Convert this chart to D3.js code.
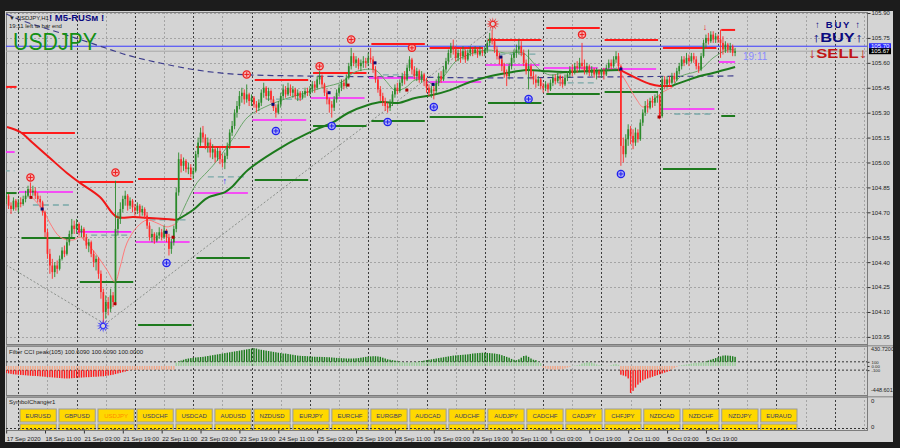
<!DOCTYPE html>
<html><head><meta charset="utf-8">
<script src="https://cdn.jsdelivr.net/npm/d3@7"></script>
<style>
body{margin:0;background:#1c1c1c;overflow:hidden}
svg{display:block}
text{font-family:"Liberation Sans",Arial,sans-serif}
</style></head>
<body><svg id="c" width="900" height="448"></svg>
<script>
// ---------------- DATA ----------------
const closes=[104.80,104.74,104.72,104.77,104.73,
104.76,104.75,104.78,104.80,104.84,104.82,104.83,104.80,104.78,104.76,104.70,104.58,104.45,104.38,104.34,104.38,104.36,104.42,104.47,104.45,104.52,104.57,104.62,104.60,
104.63,104.58,104.60,104.55,104.50,104.52,104.45,104.40,104.42,104.33,104.22,104.10,104.16,104.12,104.20,104.16,104.60,104.66,104.72,104.78,104.80,104.74,104.77,104.73,
104.71,104.74,104.70,104.72,104.68,104.62,104.55,104.57,104.53,104.56,104.58,104.55,104.59,104.55,104.48,104.52,104.60,104.82,105.02,104.98,105.01,104.96,104.97,104.93,
104.95,105.05,105.12,105.18,105.15,105.10,105.12,105.06,105.08,105.03,105.07,105.02,105.00,105.04,105.10,105.18,105.22,105.30,105.34,105.40,105.42,105.38,105.41,105.37,
105.39,105.35,105.33,105.36,105.42,105.45,105.40,105.43,105.38,105.33,105.30,105.35,105.40,105.44,105.41,105.45,105.42,105.44,105.40,105.42,105.39,105.41,105.43,105.42,
105.44,105.47,105.45,105.50,105.52,105.47,105.42,105.38,105.35,105.33,105.38,105.42,105.45,105.48,105.46,105.51,105.58,105.64,105.60,105.62,105.58,105.60,105.61,105.60,
105.63,105.62,105.56,105.50,105.44,105.40,105.37,105.34,105.33,105.36,105.41,105.45,105.43,105.48,105.52,105.50,105.57,105.62,105.56,105.52,105.55,105.50,105.53,105.49,
105.45,105.42,105.44,105.43,105.48,105.52,105.50,105.56,105.61,105.66,105.70,105.68,105.63,105.66,105.64,105.67,105.62,105.66,105.68,105.66,105.68,105.65,105.67,105.66,
105.68,105.72,105.75,105.73,105.68,105.64,105.62,105.58,105.54,105.52,105.58,105.63,105.66,105.68,105.70,105.66,105.60,105.55,105.58,105.52,105.50,105.48,105.50,105.46,
105.45,105.47,105.44,105.48,105.51,105.49,105.52,105.50,105.47,105.51,105.53,105.56,105.54,105.58,105.57,105.60,105.58,105.55,105.58,105.54,105.56,105.53,105.55,105.53,
105.55,105.53,105.57,105.60,105.58,105.62,105.64,105.58,105.10,105.05,105.14,105.20,105.16,105.12,105.18,105.14,105.24,105.30,105.34,105.33,105.37,105.36,105.39,105.40,
105.28,105.50,105.47,105.50,105.48,105.52,105.50,105.55,105.58,105.62,105.60,105.63,105.61,105.64,105.62,105.58,105.56,105.64,105.72,105.75,105.73,105.77,105.74,105.76,
105.74,105.72,105.68,105.71,105.68,105.70,105.66,105.67];
const highs=[104.82,104.81,104.76,104.79,104.78,
104.78,104.79,104.80,104.83,104.86,104.88,104.86,104.85,104.82,104.80,104.77,104.71,104.60,104.48,104.42,104.40,104.41,104.44,104.49,104.50,104.54,104.59,104.66,104.65,
104.66,104.64,104.62,104.61,104.57,104.54,104.53,104.47,104.44,104.43,104.35,104.24,104.20,104.19,104.24,104.22,104.89,104.70,104.76,104.80,104.83,104.81,104.79,104.78,
104.75,104.76,104.75,104.74,104.73,104.70,104.64,104.60,104.58,104.58,104.61,104.60,104.62,104.60,104.57,104.54,104.62,104.85,105.06,105.05,105.03,105.02,105.00,104.99,
104.97,105.07,105.15,105.21,105.22,105.17,105.15,105.14,105.11,105.10,105.09,105.10,105.05,105.06,105.12,105.20,105.25,105.32,105.37,105.43,105.45,105.44,105.47,105.42,
105.41,105.40,105.37,105.38,105.44,105.48,105.46,105.45,105.44,105.40,105.35,105.37,105.42,105.47,105.46,105.48,105.47,105.46,105.45,105.44,105.43,105.43,105.45,105.45,
105.46,105.49,105.49,105.52,105.55,105.53,105.48,105.44,105.39,105.37,105.40,105.44,105.47,105.50,105.50,105.53,105.60,105.69,105.66,105.64,105.63,105.62,105.64,105.63,
105.66,105.69,105.64,105.58,105.52,105.46,105.42,105.39,105.36,105.38,105.43,105.47,105.48,105.50,105.54,105.55,105.59,105.64,105.63,105.58,105.57,105.56,105.55,105.54,
105.51,105.47,105.46,105.46,105.50,105.54,105.55,105.58,105.63,105.68,105.72,105.74,105.70,105.68,105.69,105.70,105.68,105.68,105.70,105.69,105.70,105.69,105.70,105.69,
105.70,105.74,105.78,105.80,105.75,105.70,105.66,105.64,105.60,105.56,105.60,105.65,105.68,105.71,105.74,105.73,105.68,105.62,105.68,105.59,105.55,105.53,105.52,105.51,
105.48,105.49,105.48,105.50,105.53,105.53,105.54,105.53,105.52,105.53,105.55,105.58,105.59,105.60,105.61,105.63,105.72,105.62,105.60,105.59,105.58,105.57,105.57,105.56,
105.57,105.57,105.59,105.62,105.62,105.64,105.67,105.66,105.59,105.15,105.17,105.23,105.22,105.20,105.21,105.20,105.26,105.32,105.37,105.38,105.39,105.40,105.41,105.42,
105.41,105.52,105.52,105.52,105.52,105.54,105.54,105.57,105.60,105.64,105.64,105.66,105.65,105.66,105.66,105.64,105.60,105.66,105.74,105.77,105.78,105.79,105.79,105.78,
105.77,105.80,105.76,105.73,105.72,105.72,105.71,105.69];
const lows=[104.75,104.72,104.69,104.71,104.71,
104.70,104.73,104.74,104.76,104.79,104.80,104.80,104.78,104.76,104.73,104.68,104.55,104.42,104.33,104.30,104.31,104.33,104.35,104.41,104.43,104.44,104.50,104.55,104.57,
104.57,104.56,104.55,104.53,104.48,104.46,104.43,104.37,104.35,104.30,104.18,104.03,104.06,104.08,104.10,104.13,104.14,104.56,104.63,104.70,104.74,104.71,104.72,104.70,
104.68,104.69,104.67,104.68,104.66,104.60,104.53,104.52,104.51,104.52,104.54,104.53,104.54,104.52,104.44,104.45,104.50,104.58,104.80,104.94,104.95,104.94,104.93,104.91,
104.90,104.94,105.03,105.10,105.12,105.08,105.06,105.03,105.02,105.00,105.01,104.99,104.97,104.96,105.02,105.08,105.16,105.20,105.27,105.32,105.36,105.35,105.36,105.34,
105.34,105.33,105.30,105.31,105.34,105.39,105.38,105.37,105.36,105.31,105.27,105.29,105.33,105.38,105.39,105.40,105.40,105.39,105.38,105.37,105.37,105.38,105.39,105.40,
105.40,105.42,105.42,105.44,105.47,105.45,105.40,105.35,105.30,105.27,105.31,105.36,105.40,105.43,105.44,105.45,105.50,105.56,105.58,105.57,105.56,105.55,105.57,105.57,
105.58,105.60,105.54,105.48,105.42,105.37,105.34,105.31,105.30,105.31,105.34,105.39,105.41,105.42,105.46,105.47,105.49,105.55,105.53,105.50,105.49,105.48,105.48,105.46,
105.42,105.40,105.39,105.38,105.41,105.46,105.48,105.49,105.54,105.59,105.63,105.65,105.61,105.61,105.60,105.62,105.60,105.61,105.64,105.64,105.65,105.63,105.64,105.64,
105.64,105.66,105.70,105.71,105.66,105.62,105.59,105.55,105.51,105.46,105.50,105.56,105.60,105.63,105.65,105.64,105.58,105.53,105.44,105.50,105.47,105.45,105.46,105.44,
105.42,105.43,105.42,105.43,105.46,105.47,105.48,105.46,105.45,105.46,105.49,105.51,105.52,105.53,105.54,105.55,105.56,105.53,105.53,105.52,105.52,105.51,105.50,105.51,
105.51,105.50,105.52,105.55,105.56,105.57,105.60,105.55,104.98,105.00,105.03,105.10,105.11,105.08,105.10,105.12,105.13,105.22,105.28,105.30,105.32,105.33,105.34,105.36,
105.26,105.27,105.44,105.45,105.46,105.47,105.48,105.49,105.53,105.56,105.58,105.59,105.58,105.60,105.60,105.56,105.54,105.55,105.63,105.69,105.71,105.72,105.72,105.72,
105.72,105.63,105.65,105.66,105.66,105.66,105.64,105.64];
const firstOpen=104.78;

const timeLabels=["17 Sep 2020","18 Sep 11:00","21 Sep 03:00","21 Sep 19:00","22 Sep 11:00","23 Sep 03:00","23 Sep 19:00","24 Sep 11:00","25 Sep 03:00","25 Sep 19:00","28 Sep 11:00","29 Sep 03:00","29 Sep 19:00","30 Sep 11:00","1 Oct 03:00","1 Oct 19:00","2 Oct 11:00","5 Oct 03:00","5 Oct 19:00"];
const timeLabelBars=[0,16,32,48,64,80,96,112,128,144,160,176,192,208,224,240,256,272,288];
const priceTicks=[103.95,104.10,104.25,104.40,104.55,104.70,104.85,105.00,105.15,105.30,105.45,105.60,105.75,105.90];
const dayStarts=[-19,5,29,53,77,101,125,149,173,197,221,245,269,293];
const askPrice=105.70, bidPrice=105.67;

// daily levels (one per day, null = not shown)
const redLevels=[105.455,105.178,104.883,104.901,105.093,105.497,105.539,105.713,105.689,105.737,105.810,105.737,105.689,105.798];
const magentaLevels=[105.063,104.822,104.582,104.521,104.816,105.256,105.388,105.509,105.485,105.587,105.569,105.563,105.322,105.605];
const greenLevels=[104.816,104.545,104.280,104.022,104.425,104.895,105.220,105.250,105.274,105.358,105.412,105.424,104.961,105.280];
const tealLevels=[104.949,104.744,104.563,104.654,104.913,105.382,null,105.527,null,105.653,105.479,null,105.292,null];

// moving averages: [bar, price]
const slowMaDown1=[[0.35,105.214],[5.7,105.184],[11,105.117],[18,105.027],[25,104.937],[30.4,104.877],[38.6,104.792],[45.6,104.672],[52.2,104.672],[59.2,104.666],[65.4,104.660],[70.3,104.654]];
const slowMaUp1=[[70.3,104.654],[76.9,104.714],[82.7,104.786],[90.1,104.822],[92.9,104.852],[99.5,104.955],[113.5,105.093],[127.1,105.196],[134.1,105.238],[140.7,105.298],[148.9,105.346],[154.7,105.364],[161.3,105.358],[168.3,105.388],[175.3,105.406],[182.7,105.436],[190.9,105.485],[197.9,105.515],[206.1,105.539],[214.4,105.557],[220.9,105.551],[229.2,105.545],[239,105.551],[252.6,105.557]];
const slowMaDown2=[[252.6,105.557],[256.7,105.527],[260.9,105.497],[265,105.473],[269.1,105.461],[274,105.461]];
const slowMaUp2=[[274,105.461],[277.3,105.479],[284.3,105.515],[290.9,105.539],[300,105.575]];
const fastMaDown1=[[9.8,104.804],[15.2,104.714],[18,104.636],[22.2,104.551],[27.5,104.533],[30.4,104.551],[35.7,104.473],[41.5,104.353],[44.8,104.281],[46.9,104.371],[49.7,104.515],[53.9,104.612],[58,104.654],[62,104.636],[66.2,104.612],[70.3,104.636]];
const fastMaUp1=[[70.3,104.636],[72.8,104.714],[75.7,104.804],[78.5,104.877],[82.7,104.943],[86,104.997],[92.9,105.135],[99.5,105.274],[106.5,105.334],[113.5,105.376],[124.2,105.424],[131.2,105.455],[138.2,105.485],[143.6,105.545],[151.8,105.557],[155.9,105.497],[160,105.436],[164.1,105.448],[168.3,105.497],[172.4,105.497],[176.5,105.467],[180.6,105.527],[184.7,105.605],[188,105.635],[197.9,105.677],[205.3,105.659],[212.7,105.659],[219.7,105.557],[223.8,105.527],[229.2,105.539],[236.2,105.545],[244.4,105.545],[251.4,105.569]];
const fastMaDown2=[[251.4,105.569],[254.7,105.497],[259.6,105.376],[262.1,105.334],[266.2,105.376],[270.3,105.424],[274.4,105.455]];
const fastMaUp2=[[274.4,105.455],[277.3,105.515],[285.5,105.557],[290.9,105.629],[296.7,105.677],[300,105.677]];
const longMa=[[0,105.894],[2.8,105.876],[22.2,105.780],[38.6,105.701],[49.7,105.647],[63.3,105.599],[75.7,105.563],[88,105.539],[100.4,105.527],[121,105.521],[162,105.515],[203.2,105.509],[244.4,105.515],[300,105.521]];
const trendLineA=[[0,104.383],[39.9,104.034]];
const trendLineB=[[41.9,104.04],[200.4,105.81]];

const highMarks=[[10,104.88],[45,104.91],[99,105.50],[129,105.55],[142,105.71],[167,105.66],[237,105.74]];
const lowMarks=[[66,104.425],[111,105.22],[134,105.25],[157,105.274],[176,105.364],[215,105.412],[253,104.961]];
const starHigh=[200.3,105.816], starLow=[39.9,104.034];
const upArrows=[[90,104.937]], downArrows=[[287.6,105.81]];
const navySquares=[[14.8,104.72],[65.8,104.58],[109.8,105.35],[132.9,105.42],[151.8,105.60],[175.7,105.47],[203.6,105.635],[253,105.563]];
const redSquares=[[10.2,104.79],[44.8,104.15],[68.7,104.55],[140.7,105.466],[164.9,105.436],[268.7,105.274]];

// CCI filter histogram (one value per bar)
const cci=[-170,-180,-190,-200,-205,-210,-215,-220,-225,-230,-235,-240,-240,-245,-250,-255,
-260,-265,-270,-275,-280,-285,-290,-295,-300,-300,-300,-295,-290,-285,-280,-280,-275,-270,-270,-265,-260,-260,-255,-250,-250,
-240,-230,-220,-210,-195,-180,-165,-150,-135,-120,
-100,-98,-96,-95,-94,-93,-92,-91,-90,-90,-90,-90,-90,-90,-90,-90,-90,-90,-90,
80,
110,130,150,170,180,190,200,205,210,215,220,230,240,250,260,270,280,290,300,310,320,330,340,350,360,370,380,390,400,410,
420,430,420,400,390,380,370,360,350,340,330,320,310,300,300,290,280,270,260,250,
245,240,240,235,230,225,222,220,220,218,215,212,210,205,200,195,190,188,185,182,180,180,182,185,190,
200,210,220,225,230,235,235,230,220,200,180,160,150,140,130,
115,105,95,90,85,85,90,95,100,110,120,130,140,150,160,
170,180,190,200,210,220,230,240,250,255,260,265,270,275,280,
290,300,305,310,315,320,320,315,310,305,300,290,280,
260,240,220,200,170,150,140,160,200,240,250,220,180,150,140,100,70,
-40,-60,-70,-80,-85,-90,-85,-80,-75,-60,-40,-20,
5,10,20,30,
60,75,85,90,80,60,40,
20,10,5,-5,5,20,
40,50,30,
-210,-230,-250,-300,-650,-600,
-520,-450,-400,-350,-320,
-300,-280,-260,-240,-220,-200,-180,-160,-140,-120,
-80,-50,-20,
10,20,30,40,50,60,70,75,80,85,90,
110,130,150,170,190,210,230,250,255,250,245,235,220];
const cciMin=-448.6012, cciMax=430.72, cciLevels=[100,0,-100];

const symbolsRow1=["EURUSD","GBPUSD","USDJPY","USDCHF","USDCAD","AUDUSD","NZDUSD","EURJPY","EURCHF","EURGBP","AUDCAD","AUDCHF","AUDJPY","CADCHF","CADJPY","CHFJPY","NZDCAD","NZDCHF","NZDJPY","EURAUD"];
const symbolsRow2=["GBPCHF","GBPJPY","AUDNZD","EURCAD","EURNZD","GBPAUD","GBPCAD","GBPNZD","GOLD","SILVER","XAUUSD","XAGUSD","USDSEK","USDDKK","USDNOK","USDZAR","USDRUB","EURRUB","#AA","#AABA"];

// ---------------- LAYOUT ----------------
const L=6,R=867,T=12,B=344, cT=346,cB=395, sT=397,sB=430, axisR=893, frameB=442;
const svg=d3.select("#c");
const x=d3.scaleLinear().domain([0,300]).range([6.15,735.1]);
const y=d3.scaleLinear().domain([103.95,105.90]).range([336.9,13]);
const cy=d3.scaleLinear().domain([cciMin,cciMax]).range([384.6,348.1]);

svg.append("rect").attr("width",900).attr("height",448).attr("fill","#1c1c1c");
svg.append("rect").attr("x",5).attr("y",11).attr("width",axisR-5).attr("height",frameB-11).attr("fill","#d4d4d4");

const defs=svg.append("defs");
defs.append("clipPath").attr("id","mainClip").append("rect").attr("x",L).attr("y",T).attr("width",R-L).attr("height",B-T);
defs.append("clipPath").attr("id","cciClip").append("rect").attr("x",L).attr("y",cT).attr("width",R-L).attr("height",cB-cT);
defs.append("clipPath").attr("id","symClip").append("rect").attr("x",L).attr("y",sT).attr("width",R-L).attr("height",sB-sT);

// grid
const grid=svg.append("g");
priceTicks.forEach(p=>grid.append("line").attr("x1",L).attr("x2",R).attr("y1",Math.round(y(p))+0.5).attr("y2",Math.round(y(p))+0.5)
  .attr("stroke","#a4a4a4").attr("stroke-dasharray","2,2"));
for(let i=5;x(i)<R;i+=12){
  const isSep=(i-5)%24===0;
  const xx=Math.round(x(i))+0.5;
  grid.append("line").attr("x1",xx).attr("x2",xx).attr("y1",T).attr("y2",sB)
   .attr("stroke",isSep?"#3c3c3c":"#a4a4a4").attr("stroke-dasharray","2,2");
}

// panel borders
[[T,B],[cT,cB],[sT,sB]].forEach(([a,b])=>svg.append("rect").attr("x",L+0.5).attr("y",a+0.5).attr("width",R-L).attr("height",b-a)
  .attr("fill","none").attr("stroke","#7c7c7c"));
svg.append("rect").attr("x",L).attr("y",B+1).attr("width",axisR-L).attr("height",1.5).attr("fill","#9c9c9c");
svg.append("rect").attr("x",L).attr("y",cB+1).attr("width",axisR-L).attr("height",1.5).attr("fill","#9c9c9c");

const main=svg.append("g").attr("clip-path","url(#mainClip)");

// trend lines
const line=d3.line().x(d=>x(d[0])).y(d=>y(d[1]));
[trendLineA,trendLineB].forEach(t=>main.append("path").attr("d",line(t)).attr("fill","none")
  .attr("stroke","#8a8f8a").attr("stroke-width",1).attr("stroke-dasharray","2,2"));

// bid / ask lines
main.append("line").attr("x1",L).attr("x2",R).attr("y1",y(askPrice)).attr("y2",y(askPrice)).attr("stroke","#3a3aff").attr("stroke-width",1);
main.append("line").attr("x1",L).attr("x2",R).attr("y1",y(bidPrice)).attr("y2",y(bidPrice)).attr("stroke","#a8a8a8").attr("stroke-width",1);

// long MA (dashed)
const lineSmooth=d3.line().x(d=>x(d[0])).y(d=>y(d[1])).curve(d3.curveMonotoneX);
main.append("path").attr("d",lineSmooth(longMa)).attr("fill","none").attr("stroke","#3c3c8c").attr("stroke-width",1.2).attr("stroke-dasharray","6,4");

// daily levels
function levels(arr,color,w,dash,s0,s1){
  arr.forEach((p,k)=>{
    if(p===null) return;
    const a=Math.max(dayStarts[k]+s0,-1), b=Math.min(dayStarts[k]+s1,300);
    main.append("line").attr("x1",x(a)).attr("x2",x(b)).attr("y1",y(p)).attr("y2",y(p))
      .attr("stroke",color).attr("stroke-width",w).attr("stroke-dasharray",dash);
  });
}
levels(tealLevels,"#78a8a8",1.3,"6,4",6,22.5);
levels(magentaLevels,"#ff22ff",1.6,null,0.3,22.5);
levels(greenLevels,"#1e7a1e",2,null,1.3,23.3);
levels(redLevels,"#ff1a1a",2,null,1.3,23.3);

// MAs
const smooth=d3.line().x(d=>x(d[0])).y(d=>y(d[1])).curve(d3.curveCatmullRom);
[[fastMaDown1,"#ff7a7a"],[fastMaDown2,"#ff7a7a"],[fastMaUp1,"#6aa66a"],[fastMaUp2,"#6aa66a"]].forEach(([d,c])=>
  main.append("path").attr("d",smooth(d)).attr("fill","none").attr("stroke",c).attr("stroke-width",1));
[[slowMaDown1,"#f01818"],[slowMaDown2,"#f01818"],[slowMaUp1,"#1c7a1c"],[slowMaUp2,"#1c7a1c"]].forEach(([d,c])=>
  main.append("path").attr("d",smooth(d)).attr("fill","none").attr("stroke",c).attr("stroke-width",2));

// candles
const bars=closes.map((c,i)=>{const o=i?closes[i-1]:firstOpen;return {i,o,c,h:Math.max(highs[i],o,c),l:Math.min(lows[i],o,c)};});
const cg=main.append("g");
bars.forEach(b=>{
  const up=b.c>=b.o, col=up?"#2a8a2a":"#ff2a2a";
  const xx=x(b.i);
  cg.append("line").attr("x1",xx).attr("x2",xx).attr("y1",y(b.h)).attr("y2",y(b.l)).attr("stroke",col).attr("stroke-width",0.9);
  const top=y(Math.max(b.o,b.c)), bot=y(Math.min(b.o,b.c));
  cg.append("rect").attr("x",xx-0.85).attr("y",top).attr("width",1.7).attr("height",Math.max(bot-top,0.8)).attr("fill",col);
});

// markers
function crossCircle(g,cx,cy_,col,fill){
  g.append("circle").attr("cx",cx).attr("cy",cy_).attr("r",3.6).attr("fill",fill).attr("stroke",col).attr("stroke-width",1.3);
  g.append("path").attr("d",`M${cx-2.4},${cy_}H${cx+2.4}M${cx},${cy_-2.4}V${cy_+2.4}`).attr("stroke",col).attr("stroke-width",1);
}
highMarks.forEach(([i,p])=>crossCircle(main,x(i),y(p)-5,"#ee2020","#f3b0b0"));
lowMarks.forEach(([i,p])=>crossCircle(main,x(i),y(p)+5,"#2020ee","#b0b0f3"));
function star(g,cx,cy_,col){
  const pts=[];for(let k=0;k<24;k++){const r=k%2?2.6:6.8;const a=k*Math.PI/12;pts.push([cx+r*Math.cos(a),cy_+r*Math.sin(a)]);}
  g.append("polygon").attr("points",pts.map(p=>p.join(",")).join(" ")).attr("fill",col);
  g.append("circle").attr("cx",cx).attr("cy",cy_).attr("r",2.6).attr("fill","#d4d4d4").attr("stroke",col);
}
star(main,x(starHigh[0]),y(starHigh[1])-3,"#ee2020");
star(main,x(starLow[0]),y(starLow[1])+3,"#2a2aff");
upArrows.forEach(([i,p])=>main.append("text").attr("x",x(i)).attr("y",y(p)+11).attr("text-anchor","middle").attr("font-size",9).attr("font-weight","bold").attr("fill","#2a2aff").text("↑"));
downArrows.forEach(([i,p])=>main.append("text").attr("x",x(i)).attr("y",y(p)+2).attr("text-anchor","middle").attr("font-size",9).attr("font-weight","bold").attr("fill","#ee2020").text("↓"));
navySquares.forEach(([i,p])=>main.append("rect").attr("x",x(i)-1.5).attr("y",y(p)-1.5).attr("width",3).attr("height",3).attr("fill","#0a0a70"));
redSquares.forEach(([i,p])=>main.append("rect").attr("x",x(i)-1.5).attr("y",y(p)-1.5).attr("width",3).attr("height",3).attr("fill","#b00000"));

// texts in main
svg.append("text").attr("x",9).attr("y",20).attr("font-size",6).attr("fill","#222").text("▼ USDJPY,H1");
svg.append("text").attr("x",49).attr("y",21).attr("font-size",9.5).attr("font-weight","bold").attr("fill","#0a0a80").text("! M5-RUSм !");
svg.append("text").attr("x",9).attr("y",28).attr("font-size",6).attr("fill","#222").text("19:11 left to bar end");
svg.append("text").attr("x",13).attr("y",50).attr("font-size",24).attr("fill","#159015").attr("textLength",84).attr("lengthAdjust","spacingAndGlyphs").text("USDJPY");
svg.append("text").attr("x",743).attr("y",60).attr("font-size",10).attr("fill","#8a8aff").text("19:11");
svg.append("text").attr("x",815).attr("y",28).attr("font-size",9.5).attr("font-weight","bold").attr("fill","#0a0a80").attr("textLength",45).text("↑ BUY ↑");
svg.append("text").attr("x",812).attr("y",42).attr("font-size",12.5).attr("font-weight","bold").attr("fill","#0a0a80").attr("textLength",51).attr("lengthAdjust","spacingAndGlyphs").text("↑BUY↑");
svg.append("text").attr("x",808).attr("y",58).attr("font-size",13.5).attr("font-weight","bold").attr("fill","#c01515").attr("textLength",59).attr("lengthAdjust","spacingAndGlyphs").text("↓SELL↓");

// right price axis
svg.append("line").attr("x1",R+0.5).attr("x2",R+0.5).attr("y1",T).attr("y2",sB).attr("stroke","#7c7c7c");
const ya=svg.append("g").attr("transform",`translate(${R+0.5},0)`).call(d3.axisRight(y).tickValues(priceTicks).tickSize(3).tickFormat(d3.format(".2f")));
ya.select(".domain").remove();
ya.selectAll("line").attr("stroke","#333");
ya.selectAll("text").attr("font-size",6).attr("fill","#222").attr("x",4).attr("font-family","Liberation Sans");
svg.append("rect").attr("x",R+2).attr("y",y(askPrice)-3).attr("width",22).attr("height",6).attr("fill","#2a2aff");
svg.append("text").attr("x",R+4).attr("y",y(askPrice)+2).attr("font-size",6).attr("fill","#fff").text(askPrice.toFixed(2));
svg.append("rect").attr("x",R+2).attr("y",y(bidPrice)-3).attr("width",22).attr("height",6).attr("fill","#000");
svg.append("text").attr("x",R+4).attr("y",y(bidPrice)+2).attr("font-size",6).attr("fill","#fff").text(bidPrice.toFixed(2));

// ---------------- CCI panel ----------------
const cg2=svg.append("g").attr("clip-path","url(#cciClip)");
cciLevels.filter(v=>v!==0).forEach(v=>cg2.append("line").attr("x1",L).attr("x2",R).attr("y1",cy(v)).attr("y2",cy(v)).attr("stroke","#333").attr("stroke-dasharray","2,2"));
cci.forEach((v,i)=>{
  const xx=x(i);
  const lightVal=Math.max(-100,Math.min(100,v));
  const lightCol=v>=0?"#9ccf9c":"#f2a88a";
  cg2.append("rect").attr("x",xx-0.7).attr("y",Math.min(cy(0),cy(lightVal))).attr("width",1.4).attr("height",Math.abs(cy(0)-cy(lightVal))).attr("fill",lightCol);
  if(Math.abs(v)>100){
    const s=v>0?100:-100;
    cg2.append("rect").attr("x",xx-0.7).attr("y",Math.min(cy(s),cy(v))).attr("width",1.4).attr("height",Math.abs(cy(s)-cy(v))).attr("fill",v>0?"#1a7a1a":"#ff1a1a");
  }
});
svg.append("text").attr("x",9).attr("y",354).attr("font-size",6).attr("fill","#222").text("Filter CCI peak(105) 100.6090 100.6090 100.0000");
const cAxis=svg.append("g").attr("transform",`translate(${R+0.5},0)`).call(d3.axisRight(cy).tickValues(cciLevels).tickSize(2).tickFormat(d=>d===0?"0.00":d));
cAxis.select(".domain").remove();
cAxis.selectAll("line").attr("stroke","#333");
cAxis.selectAll("text").attr("font-size",4.3).attr("fill","#222").attr("x",4).attr("font-family","Liberation Sans");
svg.append("text").attr("x",R+4).attr("y",cT+5).attr("font-size",5.5).attr("fill","#222").text(cciMax.toFixed(4));
svg.append("text").attr("x",R+4).attr("y",cB-3).attr("font-size",5.5).attr("fill","#222").text(cciMin.toFixed(4));

// ---------------- Symbol changer ----------------
svg.append("text").attr("x",9).attr("y",404).attr("font-size",6).attr("fill","#222").text("SymbolChanger1");
const sg=svg.append("g").attr("clip-path","url(#symClip)");
const bx=d3.scaleBand().domain(d3.range(symbolsRow1.length)).range([20,20+38.85*symbolsRow1.length]).paddingInner(0.07);
[[symbolsRow1,409],[symbolsRow2,424]].forEach(([row,yy])=>{
  row.forEach((s,k)=>{
    sg.append("rect").attr("x",bx(k)).attr("y",yy).attr("width",bx.bandwidth()).attr("height",13).attr("fill","#ffd800").attr("stroke","#9a9a9a").attr("stroke-width",1);
    sg.append("text").attr("x",bx(k)+bx.bandwidth()/2).attr("y",yy+9).attr("text-anchor","middle").attr("font-size",6).attr("fill",s==="USDJPY"?"#ff8a00":"#3a3a60").text(s);
  });
});
sg.append("line").attr("x1",L).attr("x2",R).attr("y1",sB-1.5).attr("y2",sB-1.5).attr("stroke","#333").attr("stroke-dasharray","2,2");
svg.append("text").attr("x",R+4).attr("y",403).attr("font-size",6).attr("fill","#222").text("0");
svg.append("text").attr("x",R+4).attr("y",429).attr("font-size",6).attr("fill","#222").text("0");

// ---------------- time axis ----------------
svg.append("line").attr("x1",L).attr("x2",R).attr("y1",sB+0.5).attr("y2",sB+0.5).attr("stroke","#7c7c7c");
const xa=svg.append("g").attr("transform",`translate(0,${sB+0.5})`)
  .call(d3.axisBottom(x).tickValues(timeLabelBars).tickSize(3).tickFormat((d,k)=>timeLabels[k]));
xa.select(".domain").remove();
xa.selectAll("line").attr("stroke","#333");
xa.selectAll("text").attr("font-size",6).attr("fill","#222").attr("text-anchor","start").attr("y",6).attr("font-family","Liberation Sans");
</script></body></html>
